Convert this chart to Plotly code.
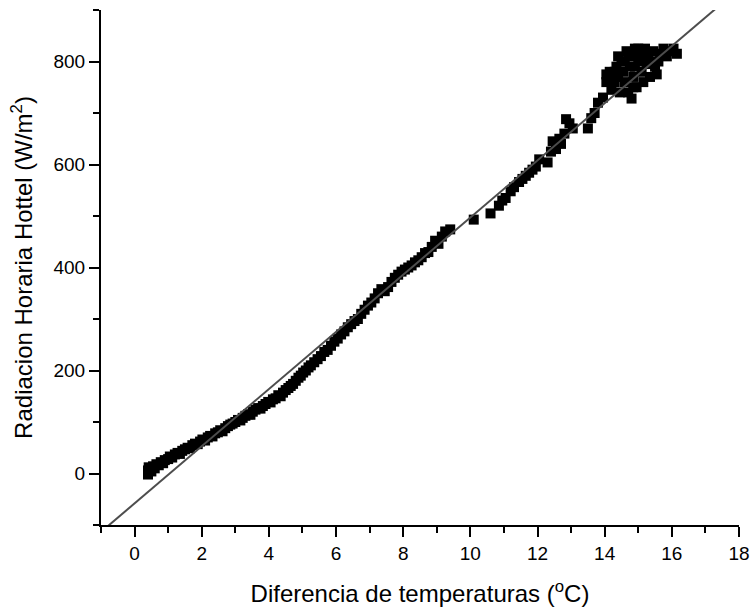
import plotly.graph_objects as go

# Scatter data
temp_diff = [
    0.40, 0.40, 0.42, 0.50, 0.55, 0.60, 0.65, 0.72, 0.78, 0.85, 0.90, 1.00, 1.05, 1.12, 1.20, 1.28,
    1.35, 1.42, 1.50, 1.58, 1.65, 1.72, 1.80, 1.88, 1.95, 2.02, 2.10, 2.18, 2.25, 2.32, 2.40, 2.48,
    2.55, 2.62, 2.70, 2.78, 2.85, 2.92, 3.00, 3.08, 3.15, 3.22, 3.30, 3.38, 3.45, 3.52, 3.60, 3.68,
    3.75, 3.82, 3.90, 3.98, 4.05, 4.12, 4.20, 4.28, 4.35, 4.42, 4.50, 4.58, 4.65, 4.72, 4.80, 4.88,
    4.95, 5.02, 5.10, 5.18, 5.25, 5.35, 5.45, 5.55, 5.65, 5.75, 5.85, 5.95, 6.05, 6.15, 6.25, 6.35,
    6.45, 6.55, 6.65, 6.75, 6.85, 6.95, 7.05, 7.15, 7.25, 7.35, 7.45, 7.55, 7.65, 7.75, 7.85, 7.95,
    8.05, 8.15, 8.25, 8.35, 8.45, 8.55, 8.65, 8.75, 8.85, 8.95, 9.05, 9.15, 9.25, 9.40, 10.10, 10.60,
    10.85, 10.95, 11.05, 11.20, 11.30, 11.45, 11.55, 11.65, 11.75, 11.85, 11.95, 12.05, 12.30, 12.40,
    12.45, 12.55, 12.65, 12.70, 12.80, 12.85, 12.95, 13.05, 13.50, 13.60, 13.70, 13.80, 13.95, 14.05,
    14.05, 14.15, 14.20, 14.30, 14.35, 14.40, 14.45, 14.50, 14.55, 14.60, 14.65, 14.70, 14.75, 14.80,
    14.80, 14.85, 14.90, 14.95, 15.00, 15.05, 15.10, 15.15, 15.20, 15.30, 15.35, 15.45, 15.50, 15.55,
    15.65, 15.75, 15.85, 15.95, 16.05, 16.15, 14.60, 14.70, 15.00, 15.10, 14.90, 15.25, 14.40, 14.30,
    15.60, 15.40, 14.25, 14.85,
]
radiation = [
    -2, 6, 12, 4, 14, 10, 18, 16, 22, 20, 26, 28, 33, 31, 37, 40,
    38, 44, 47, 50, 49, 55, 58, 57, 62, 66, 64, 70, 73, 72, 78, 80,
    84, 82, 88, 92, 95, 97, 100, 104, 103, 108, 112, 115, 114, 120, 124, 127,
    126, 131, 135, 139, 138, 144, 146, 152, 150, 157, 162, 166, 170, 174, 180, 186,
    190, 196, 200, 206, 210, 216, 222, 228, 236, 240, 248, 256, 262, 270, 276, 284,
    290, 296, 300, 310, 318, 326, 332, 340, 350, 358, 354, 362, 372, 380, 386, 392,
    396, 400, 404, 410, 414, 420, 428, 430, 440, 452, 446, 460, 470, 474, 493, 505,
    520, 530, 535, 548, 556, 566, 572, 578, 584, 590, 596, 610, 604, 625,
    645, 630, 650, 640, 660, 688, 680, 670, 670, 690, 700, 720, 730, 760,
    775, 780, 745, 760, 790, 770, 740, 800, 780, 760, 820, 740, 790, 810,
    728, 770, 825, 750, 800, 815, 780, 760, 825, 810, 770, 820, 790, 775,
    815, 825, 810, 820, 825, 815, 800, 815, 825, 810, 790, 795, 810, 780,
    800, 800, 765, 750,
]

# Linear fit line (slope, intercept)
fit_slope = 55.5
fit_intercept = -58.0
fit_x = [-1, 18]
fit_y = [fit_slope * v + fit_intercept for v in fit_x]

x_range = [-1, 18]
y_range = [-100, 900]

font_family = "Liberation Sans, Arial, sans-serif"

fig = go.Figure()
fig.add_trace(go.Scatter(
    x=temp_diff, y=radiation, mode="markers",
    marker=dict(symbol="square", size=10, color="black", line=dict(width=0)),
    showlegend=False,
))
fig.add_trace(go.Scatter(
    x=fit_x, y=fit_y, mode="lines",
    line=dict(color="#4d4d4d", width=2),
    showlegend=False,
))

fig.update_layout(
    width=750, height=611,
    margin=dict(l=101, r=11, t=10, b=86),
    paper_bgcolor="white", plot_bgcolor="white",
    font=dict(family=font_family, color="black", size=19),
    xaxis=dict(
        range=x_range, dtick=2, tick0=0,
        showgrid=False, zeroline=False,
        showline=True, linecolor="black", linewidth=2,
        ticks="outside", ticklen=10, tickwidth=2, tickcolor="black",
        minor=dict(dtick=1, tick0=0, ticks="outside", ticklen=6, tickwidth=2, tickcolor="black", showgrid=False),
        tickfont=dict(size=19),
        title=dict(text="Diferencia de temperaturas (<sup>o</sup>C)", font=dict(size=24), standoff=22),
        automargin=False,
    ),
    yaxis=dict(
        range=y_range, dtick=200, tick0=0,
        showgrid=False, zeroline=False,
        showline=True, linecolor="black", linewidth=2,
        ticks="outside", ticklen=10, tickwidth=2, tickcolor="black",
        minor=dict(dtick=100, tick0=0, ticks="outside", ticklen=6, tickwidth=2, tickcolor="black", showgrid=False),
        tickfont=dict(size=19),
        title=dict(text="Radiacion Horaria Hottel (W/m<sup>2</sup>)", font=dict(size=24), standoff=14),
        automargin=False,
    ),
)

fig.write_html(
    "out.html",
    config={"displayModeBar": False},
    post_script="document.body.style.margin='0';document.body.style.overflow='hidden';",
)
